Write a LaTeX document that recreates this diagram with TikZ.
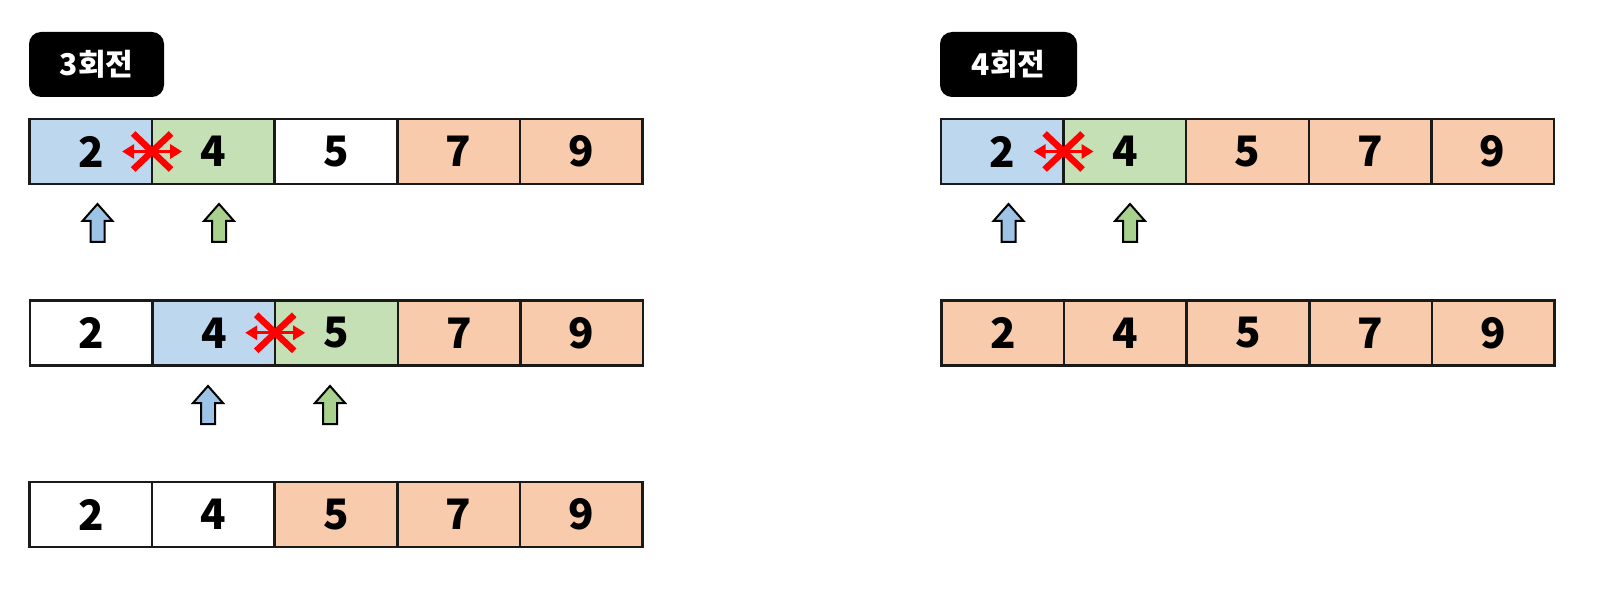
\documentclass[tikz,border=0pt]{standalone}
\usepackage{fontspec}
\newfontfamily\kr{Noto Sans CJK KR}
\usetikzlibrary{arrows.meta}
\definecolor{cblue}{HTML}{BDD7EE}
\definecolor{cgreen}{HTML}{C5E0B4}
\definecolor{corange}{HTML}{F8CBAD}
\definecolor{ablue}{HTML}{9DC3E6}
\definecolor{agreen}{HTML}{A9D18E}
\definecolor{edge}{HTML}{1A1A1A}
\tikzset{
  cell/.style={draw=edge, line width=2.5pt, minimum width=122.6pt, minimum height=65pt,
    inner sep=0pt, outer sep=0pt, text=black, font=\kr\bfseries\fontsize{42}{42}\selectfont},
  titlebox/.style={fill=black, rounded corners=12pt, minimum height=65pt, inner sep=0pt,
    text=white, font=\kr\bfseries\fontsize{30}{30}\selectfont},
  ptr/.style={draw=black, line width=2pt, line join=miter},
  swapline/.style={red, line width=3pt, {Triangle[length=12pt,width=14pt]}-{Triangle[length=12pt,width=14pt]}},
  xline/.style={red, line width=6.5pt},
}
\newcommand\ptrarrow[3]{\draw[ptr, fill=#3] (#1,#2) -- ++(15,17) -- ++(-8,0) -- ++(0,21) -- ++(-14,0) -- ++(0,-21) -- ++(-8,0) -- cycle;}
\newcommand\swapmark[1]{%
  \draw[xline] ([shift={(-19pt,-18pt)}]#1) -- ([shift={(19pt,18pt)}]#1);
  \draw[xline] ([shift={(-19pt,18pt)}]#1) -- ([shift={(19pt,-18pt)}]#1);
  \draw[swapline] ([xshift=-30pt]#1) -- ([xshift=30pt]#1);}
\begin{document}
\begin{tikzpicture}[x=1pt,y=-1pt]
\useasboundingbox (0,0) rectangle (1612,604);
% titles
\node[titlebox, minimum width=135pt] (t3) at (96.5,64.5) {3회전};
\node[titlebox, minimum width=137pt] (t4) at (1008.5,64.5) {4회전};
% left rows
\foreach \v/\c [count=\i] in {2/cblue,4/cgreen,5/white,7/corange,9/corange}
  \node[cell, fill=\c] (La\i) at ({29.5+(\i-0.5)*122.6}, 151.5) {\v};
\foreach \v/\c [count=\i] in {2/white,4/cblue,5/cgreen,7/corange,9/corange}
  \node[cell, fill=\c] (Lb\i) at ({30+(\i-0.5)*122.6}, 332.8) {\v};
\foreach \v/\c [count=\i] in {2/white,4/white,5/corange,7/corange,9/corange}
  \node[cell, fill=\c] (Lc\i) at ({29.5+(\i-0.5)*122.6}, 514.5) {\v};
% right rows
\foreach \v/\c [count=\i] in {2/cblue,4/cgreen,5/corange,7/corange,9/corange}
  \node[cell, fill=\c] (Ra\i) at ({941+(\i-0.5)*122.6}, 151.5) {\v};
\foreach \v/\c [count=\i] in {2/corange,4/corange,5/corange,7/corange,9/corange}
  \node[cell, fill=\c] (Rb\i) at ({941.5+(\i-0.5)*122.6}, 332.8) {\v};
% swap markers
\swapmark{La1.east}
\swapmark{Lb2.east}
\swapmark{Ra1.east}
% pointers
\ptrarrow{97.5}{204}{ablue}
\ptrarrow{219}{204}{agreen}
\ptrarrow{208}{386}{ablue}
\ptrarrow{330}{386}{agreen}
\ptrarrow{1008.5}{204}{ablue}
\ptrarrow{1130}{204}{agreen}
\end{tikzpicture}
\end{document}
